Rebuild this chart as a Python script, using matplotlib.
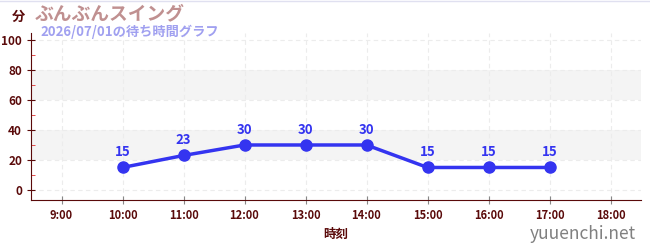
import matplotlib
matplotlib.use("Agg")
import matplotlib.pyplot as plt
from matplotlib.ticker import FixedLocator

plt.rcParams['font.family'] = ['Noto Sans CJK JP', 'DejaVu Sans']

hours = [10, 11, 12, 13, 14, 15, 16, 17]
waits = [15, 23, 30, 30, 30, 15, 15, 15]
tick_hours = list(range(9, 19))
tick_labels = [f"{h}:00" for h in tick_hours]
title = "ぶんぶんスイング"
subtitle = "2026/07/01の待ち時間グラフ"

dark = "#5a0a0a"
fig = plt.figure(figsize=(6.5, 2.5), dpi=100)
ax = fig.add_axes([31/650, 1-200/250, 610/650, 167/250])
ax.set_xlim(8.5, 18.5)
ax.set_ylim(-6.7, 104.7)

for lo, hi in [(20, 40), (60, 80)]:
    ax.axhspan(lo, hi, color="#f4f4f4", zorder=0, lw=0)

ax.set_xticks(tick_hours)
ax.set_xticklabels(tick_labels)
ax.set_yticks(range(0, 101, 20))
ax.yaxis.set_minor_locator(FixedLocator([10, 30, 50, 70, 90]))
ax.grid(True, which='major', color="#ececec", ls=(0, (4, 3)), lw=0.8)
ax.set_axisbelow(True)

ax.plot(hours, waits, color="#3434f0", lw=2.5, marker='o', ms=8, zorder=3)
for h, w in zip(hours, waits):
    ax.annotate(str(w), (h, w), xytext=(0, 6), textcoords='offset points',
                ha='center', va='bottom', color="#3434f0", fontsize=9.5, fontweight='bold')

for s in ['top', 'right']:
    ax.spines[s].set_visible(False)
ax.spines['left'].set_color(dark)
ax.spines['bottom'].set_color(dark)
ax.tick_params(axis='y', which='major', direction='inout', length=6, color=dark, labelcolor=dark, labelsize=8.5)
ax.tick_params(axis='y', which='minor', direction='in', length=3, color="#e03030")
ax.tick_params(axis='x', which='major', direction='inout', length=6, color="#888888", labelcolor=dark, labelsize=8)
for lab in ax.get_yticklabels():
    lab.set_fontweight('bold')
for lab in ax.get_xticklabels():
    lab.set_fontweight('bold')

ax.set_xlabel("時刻", color=dark, fontsize=9, fontweight='bold', labelpad=4)

fig.add_artist(plt.Line2D([0, 1], [0.998, 0.998], color="#e0e0f0", lw=1))
fig.text(12/650, 1-17/250, "分", color=dark, fontsize=9.5, fontweight='bold', va='center', ha='left')
fig.text(35/650, 1-14/250, title, color="#c09090", fontsize=13.5, fontweight='bold', va='center', ha='left')
fig.text(40/650, 1-32/250, subtitle, color="#a0a0f0", fontsize=9.5, fontweight='bold', va='center', ha='left')
fig.text(636/650, 1-234/250, "yuuenchi.net", color="#808080", fontsize=12.5, va='center', ha='right')

fig.savefig("out.png", dpi=100)
